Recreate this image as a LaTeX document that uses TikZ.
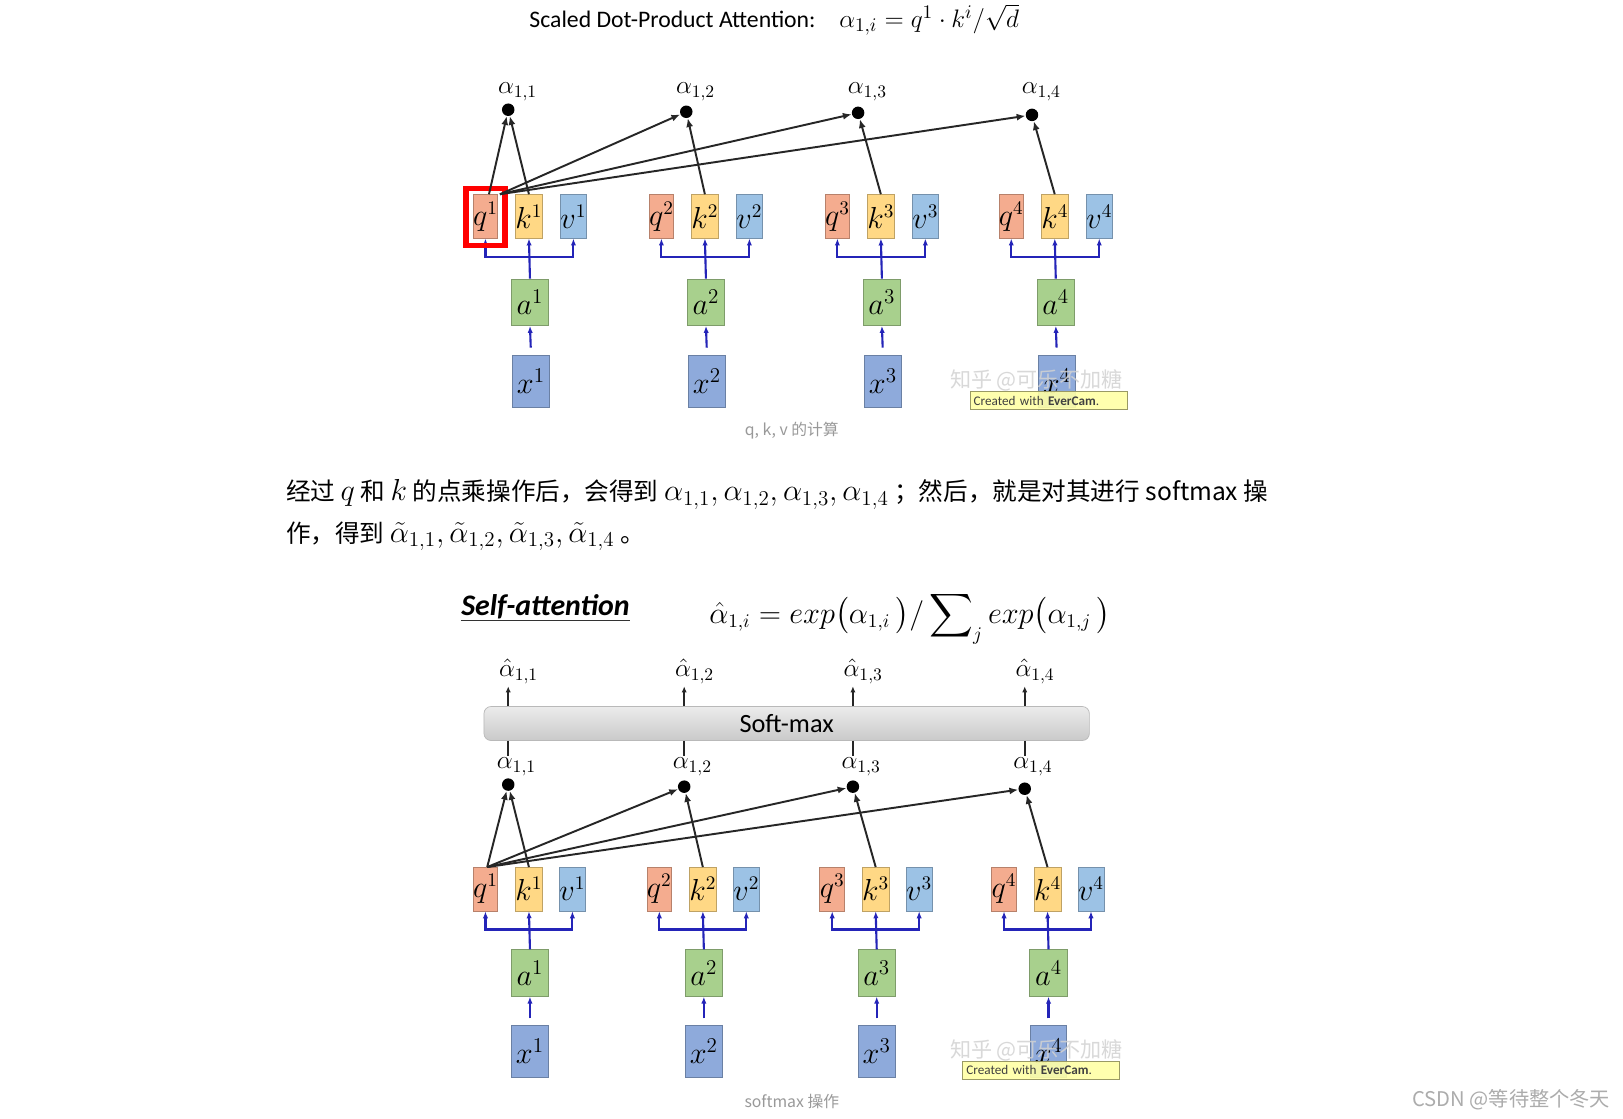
\documentclass[tikz,border=0pt]{standalone}
\usepackage[no-math]{fontspec}
\usepackage{amsmath}
\usepackage{tikz}
\usetikzlibrary{arrows.meta, positioning, calc}
\setmainfont{Carlito}
\newfontfamily\cjk{Noto Sans CJK SC}
\newcommand{\bigmath}[1]{{\fontsize{17.5}{18}\selectfont$#1$}}
\definecolor{qred}{HTML}{F4AC8F}
\definecolor{kyellow}{HTML}{FFD885}
\definecolor{vblue}{HTML}{9CC2E5}
\definecolor{agreen}{HTML}{A8D08D}
\definecolor{xblue}{HTML}{8EAADB}
\definecolor{linkblue}{HTML}{2424B8}
\definecolor{capgray}{HTML}{999999}
\definecolor{evyellow}{HTML}{FFFFA6}

\tikzset{
  vec/.style={draw=#1!75!black, fill=#1, line width=0.4pt, minimum width=0.46cm, minimum height=0.87cm, inner sep=0pt, font=\fontsize{16}{17}\selectfont},
  emb/.style={draw=#1!75!black, fill=#1, line width=0.4pt, minimum width=0.75cm, minimum height=0.93cm, inner sep=0pt, font=\fontsize{17}{18}\selectfont},
  inp/.style={draw=#1!75!black, fill=#1, line width=0.4pt, minimum width=0.73cm, minimum height=1.04cm, inner sep=0pt, font=\fontsize{17}{18}\selectfont},
  scoredot/.style={circle, fill=black, inner sep=0pt, minimum size=0.25cm},
  alab/.style={font=\fontsize{14.5}{16}\selectfont, inner sep=1pt},
  link/.style={draw=linkblue, line width=1.2pt},
  linkarr/.style={link, -{Latex[length=4pt, width=3pt]}},
  score/.style={draw=black!85, line width=1.1pt, -{Latex[length=5pt, width=4pt]}},
  tick/.style={draw=black!85, line width=0.9pt},
  tickarr/.style={tick, -{Latex[length=3.5pt, width=3pt]}},
  caption/.style={text=capgray, font=\cjk\fontsize{9}{10}\selectfont},
  para/.style={anchor=west, inner sep=0pt, font=\cjk\fontsize{14}{16}\selectfont},
  wmark/.style={text=white!65!gray, font=\cjk\fontsize{12}{14}\selectfont, opacity=0.85},
  evbox/.style={draw=evyellow!60!black, fill=evyellow, fill opacity=0.9, text opacity=1, text width=3cm, minimum height=0.37cm, inner sep=2pt, align=left, font=\fontsize{7.5}{8}\selectfont, text=black!75}
}

\begin{document}
\begin{tikzpicture}[x=0.0207cm, y=-0.0207cm]
  \useasboundingbox[fill=white] (0,0) rectangle (1568,1081);

  % Title
  \node[font=\fontsize{13.5}{16}\selectfont, inner sep=0pt] (title) at (748,19) {Scaled Dot-Product Attention:\quad{\fontsize{15}{17}\selectfont$\alpha_{1,i} = q^1\cdot k^i/\sqrt{d}$}};

  % Top: q, k, v from a, a from x
  \foreach \i/\cx/\dx/\dy in {1/511/491/106, 2/681/663/108, 3/851/829/109, 4/1019/997/111} {
    \node[vec=qred] (tq\i) at (\cx-42,209) {$q^\i$};
    \node[vec=kyellow] (tk\i) at (\cx,209) {$k^\i$};
    \node[vec=vblue] (tv\i) at (\cx+43,209) {$v^\i$};
    \node[emb=agreen] (ta\i) at (\cx+1,292) {$a^\i$};
    \node[inp=xblue] (tx\i) at (\cx+2,368) {$x^\i$};
    \coordinate (tb\i) at (\cx,248);
    \draw[linkarr] (ta\i.north) -- (tk\i.south);
    \draw[linkarr] (tb\i) -| (tq\i.south);
    \draw[linkarr] (tb\i) -| (tv\i.south);
    \draw[linkarr, shorten <=4pt] (tx\i.north) -- (ta\i.south);
    \node[scoredot] (td\i) at (\dx,\dy) {};
    \node[alab] (tl\i) at (\dx+9,89) {$\alpha_{1,\i}$};
  }

  % Highlight q1
  \node[draw=red, line width=2.9pt, minimum width=0.78cm, minimum height=1.14cm, inner sep=0pt] (hl) at (469,210) {};

  % Dot products (top)
  \coordinate (tqs) at ([xshift=1pt]tq1.north east);
  \draw[score] ([xshift=2pt]tq1.north) -- (td1);
  \foreach \j in {2,3,4} \draw[score] (tqs) -- (td\j);
  \foreach \j in {1,...,4} \draw[score] (tk\j.north) -- (td\j);

  % Watermark (top)
  \node[wmark] (tw) at (1001,368) {知乎 @可乐不加糖};
  \node[evbox] (tev) at (1013,387) {Created with \textbf{EverCam}.};
  \node[caption] (tcap) at (765,416) {q, k, v 的计算};

  % Text
  \node[para] (p1) at (276,478) {经过 \bigmath{q} 和 \bigmath{k} 的点乘操作后，会得到 \bigmath{\alpha_{1,1},\alpha_{1,2},\alpha_{1,3},\alpha_{1,4}} ；然后，就是对其进行 softmax 操};
  \node[para] (p2) at (276,518) {作，得到 \bigmath{\tilde{\alpha}_{1,1},\tilde{\alpha}_{1,2},\tilde{\alpha}_{1,3},\tilde{\alpha}_{1,4}} 。};

  % Bottom heading
  \node[font=\fontsize{17}{20}\selectfont\bfseries\itshape, inner sep=0pt] (sat) at (527,586) {Self-attention};
  \draw[line width=1pt, black!80] ([yshift=-3pt]sat.base west) -- ([yshift=-3pt]sat.base east);
  \node[font=\fontsize{16.3}{19}\selectfont] (sform) at (879,597) {$\hat{\alpha}_{1,i} = exp\bigl(\alpha_{1,i}\,\bigr)/\displaystyle\sum\nolimits_j exp\bigl(\alpha_{1,j}\,\bigr)$};

  % Soft-max bar
  \node[draw=gray!55, top color=gray!15, bottom color=gray!42, rounded corners=4pt, minimum width=12.11cm, minimum height=0.68cm, font=\fontsize{15}{17}\selectfont] (smax) at (760,699) {Soft-max};

  % Bottom: q, k, v from a, a from x
  \foreach \i/\cx/\dx/\dy in {1/511/491/758, 2/679/661/760, 3/846/824/760, 4/1012/990/762} {
    \node[vec=qred] (bq\i) at (\cx-42,859) {$q^\i$};
    \node[vec=kyellow] (bk\i) at (\cx,859) {$k^\i$};
    \node[vec=vblue] (bv\i) at (\cx+42,859) {$v^\i$};
    \node[emb=agreen] (ba\i) at (\cx+1,940) {$a^\i$};
    \node[inp=xblue] (bx\i) at (\cx+1,1016) {$x^\i$};
    \coordinate (bb\i) at (\cx,898);
    \draw[linkarr] (ba\i.north) -- (bk\i.south);
    \draw[linkarr] (bb\i) -| (bq\i.south);
    \draw[linkarr] (bb\i) -| (bv\i.south);
    \draw[linkarr, shorten <=4pt] (bx\i.north) -- (ba\i.south);
    \node[scoredot] (bd\i) at (\dx,\dy) {};
    \node[alab] (bl\i) at (\dx+8,741) {$\alpha_{1,\i}$};
    \node[alab] (bh\i) at (\dx+10,649) {$\hat{\alpha}_{1,\i}$};
    \draw[tickarr] (bd\i |- smax.north) -- (bd\i |- bh\i.south);
    \draw[tick] (bd\i |- smax.south) -- (bd\i |- bl\i.north);
  }

  % Dot products (bottom)
  \coordinate (bqs) at ([xshift=1pt]bq1.north);
  \foreach \j in {1,...,4} \draw[score] (bqs) -- (bd\j);
  \foreach \j in {1,...,4} \draw[score] (bk\j.north) -- (bd\j);

  % Watermark (bottom)
  \node[wmark] (bw) at (1001,1015) {知乎 @可乐不加糖};
  \node[evbox] (bev) at (1006,1034) {Created with \textbf{EverCam}.};
  \node[caption] (bcap) at (765,1064) {softmax 操作};
  \node[text=gray!65, font=\cjk\fontsize{11.5}{13}\selectfont] (csdn) at (1460,1062) {CSDN @等待整个冬天};
\end{tikzpicture}
\end{document}
